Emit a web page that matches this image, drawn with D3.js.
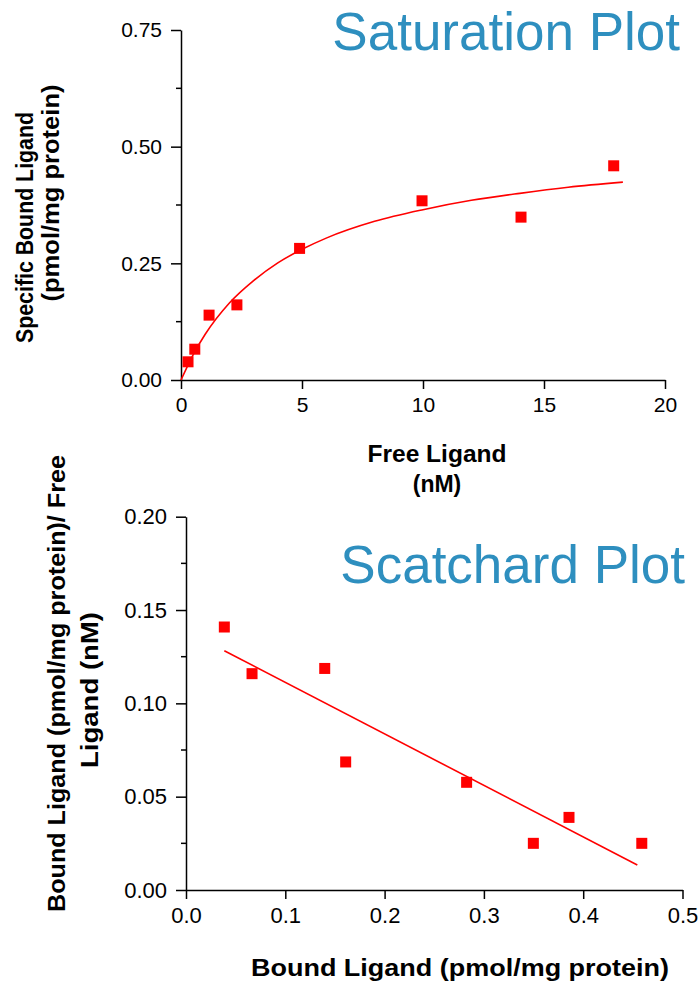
<!DOCTYPE html>
<html>
<head>
<meta charset="utf-8">
<script src="https://cdn.jsdelivr.net/npm/d3@7"></script>
<style>
  body { margin: 0; background: #fff; }
  svg { display: block; font-family: "Liberation Sans", Arial, sans-serif; }
</style>
</head>
<body>
<div id="chart"></div>
<script>
// saturation plot data (free ligand nM, specific bound pmol/mg)
const freeLigand = [0.29, 0.57, 1.16, 2.31, 4.9, 9.96, 14.05, 17.88];
const boundLigand = [0.039, 0.066, 0.139, 0.161, 0.282, 0.384, 0.349, 0.459];
// fitted curve
const fitX = [0, 0.5, 1, 2, 3, 4, 5, 6, 8, 10, 12, 14, 16, 18.26];
const fitY = [0, 0.054, 0.098, 0.165, 0.213, 0.251, 0.280, 0.304, 0.340, 0.365, 0.385, 0.400, 0.413, 0.424];

// scatchard plot data
const scBound = [0.0386, 0.0665, 0.1397, 0.1608, 0.2826, 0.3498, 0.3857, 0.459];
const scRatio = [0.1409, 0.1159, 0.1187, 0.0686, 0.0577, 0.0250, 0.0389, 0.0250];
const scLineX = [0.0386, 0.4545];
const scLineY = [0.1282, 0.0134];

const satXTicks = [0, 5, 10, 15, 20];
const satYTicks = [0, 0.25, 0.5, 0.75];
const satYMinor = [0.125, 0.375, 0.625];
const scXTicks = [0, 0.1, 0.2, 0.3, 0.4, 0.5];
const scYTicks = [0, 0.05, 0.1, 0.15, 0.2];
const scYMinor = [0.025, 0.075, 0.125, 0.175];

const red = "#ff0000";
const blue = "#2e8fbf";

const svg = d3.select("#chart").append("svg")
    .attr("width", 700)
    .attr("height", 981);

function drawAxes(g, x, y, xTicks, yTicks, yMinor, xFmt, yFmt, fs) {
    const xAxis = d3.axisBottom(x).tickValues(xTicks).tickFormat(xFmt)
        .tickSizeInner(9).tickSizeOuter(0).tickPadding(8);
    const yAxis = d3.axisLeft(y).tickValues(yTicks).tickFormat(yFmt)
        .tickSizeInner(10).tickSizeOuter(0).tickPadding(9);
    const gx = g.append("g")
        .attr("transform", `translate(0,${y.range()[0]})`)
        .call(xAxis);
    const gy = g.append("g")
        .attr("transform", `translate(${x.range()[0]},0)`)
        .call(yAxis);
    gy.selectAll(".minor").data(yMinor).enter().append("line")
        .attr("class", "minor")
        .attr("x1", -5).attr("x2", 0)
        .attr("y1", d => y(d)).attr("y2", d => y(d))
        .attr("stroke", "#000").attr("stroke-width", 1.5);
    [gx, gy].forEach(a => {
        a.selectAll("path, line").attr("stroke", "#000").attr("stroke-width", 1.5);
        a.selectAll("text").attr("font-size", fs).attr("fill", "#000")
            .attr("font-family", "'Liberation Sans', Arial, sans-serif");
    });
    gx.selectAll("text").attr("dy", "0.71em");
}

// ---------- saturation plot ----------
const x1 = d3.scaleLinear().domain([0, 20]).range([181, 665]);
const y1 = d3.scaleLinear().domain([0, 0.75]).range([380, 30]);
const satG = svg.append("g");
drawAxes(satG, x1, y1, satXTicks, satYTicks, satYMinor, d3.format("d"), d3.format(".2f"), 21);

const fitData = fitX.map((d, i) => ({x: d, y: fitY[i]}));
satG.append("path")
    .datum(fitData)
    .attr("fill", "none")
    .attr("stroke", red)
    .attr("stroke-width", 1.6)
    .attr("d", d3.line().x(d => x1(d.x)).y(d => y1(d.y)).curve(d3.curveMonotoneX));

const satData = freeLigand.map((d, i) => ({x: d, y: boundLigand[i]}));
satG.selectAll(".pt").data(satData).enter().append("rect")
    .attr("class", "pt")
    .attr("x", d => x1(d.x) - 5.5)
    .attr("y", d => y1(d.y) - 5.5)
    .attr("width", 11).attr("height", 11)
    .attr("fill", red);

satG.append("text")
    .attr("x", 680).attr("y", 50)
    .attr("text-anchor", "end")
    .attr("font-size", 53).attr("fill", blue)
    .text("Saturation Plot");

satG.append("text")
    .attr("x", 437).attr("y", 462)
    .attr("text-anchor", "middle")
    .attr("font-size", 23).attr("font-weight", "bold")
    .attr("textLength", 139).attr("lengthAdjust", "spacingAndGlyphs")
    .text("Free Ligand");
satG.append("text")
    .attr("x", 437).attr("y", 492)
    .attr("text-anchor", "middle")
    .attr("font-size", 23).attr("font-weight", "bold")
    .text("(nM)");

satG.append("text")
    .attr("transform", "translate(33,227.5) rotate(-90)")
    .attr("text-anchor", "middle")
    .attr("font-size", 24).attr("font-weight", "bold")
    .attr("textLength", 231).attr("lengthAdjust", "spacingAndGlyphs")
    .text("Specific Bound  Ligand");
satG.append("text")
    .attr("transform", "translate(59,193) rotate(-90)")
    .attr("text-anchor", "middle")
    .attr("font-size", 23).attr("font-weight", "bold")
    .attr("textLength", 217).attr("lengthAdjust", "spacingAndGlyphs")
    .text("(pmol/mg protein)");

// ---------- scatchard plot ----------
const x2 = d3.scaleLinear().domain([0, 0.5]).range([186, 682.5]);
const y2 = d3.scaleLinear().domain([0, 0.2]).range([890, 516.7]);
const scG = svg.append("g");
drawAxes(scG, x2, y2, scXTicks, scYTicks, scYMinor, d3.format(".1f"), d3.format(".2f"), 22);

const lineData = scLineX.map((d, i) => ({x: d, y: scLineY[i]}));
scG.append("path")
    .datum(lineData)
    .attr("fill", "none")
    .attr("stroke", red)
    .attr("stroke-width", 1.6)
    .attr("d", d3.line().x(d => x2(d.x)).y(d => y2(d.y)));

const scData = scBound.map((d, i) => ({x: d, y: scRatio[i]}));
scG.selectAll(".pt").data(scData).enter().append("rect")
    .attr("class", "pt")
    .attr("x", d => x2(d.x) - 5.5)
    .attr("y", d => y2(d.y) - 5.5)
    .attr("width", 11).attr("height", 11)
    .attr("fill", red);

scG.append("text")
    .attr("x", 685).attr("y", 583)
    .attr("text-anchor", "end")
    .attr("font-size", 53).attr("fill", blue)
    .text("Scatchard Plot");

scG.append("text")
    .attr("x", 460).attr("y", 976)
    .attr("text-anchor", "middle")
    .attr("font-size", 23).attr("font-weight", "bold")
    .attr("textLength", 418).attr("lengthAdjust", "spacingAndGlyphs")
    .text("Bound Ligand  (pmol/mg protein)");

scG.append("text")
    .attr("transform", "translate(65,683.5) rotate(-90)")
    .attr("text-anchor", "middle")
    .attr("font-size", 24).attr("font-weight", "bold")
    .attr("textLength", 457).attr("lengthAdjust", "spacingAndGlyphs")
    .text("Bound Ligand (pmol/mg protein)/ Free");
scG.append("text")
    .attr("transform", "translate(98,690) rotate(-90)")
    .attr("text-anchor", "middle")
    .attr("font-size", 24).attr("font-weight", "bold")
    .attr("textLength", 156).attr("lengthAdjust", "spacingAndGlyphs")
    .text("Ligand (nM)");
</script>
</body>
</html>
